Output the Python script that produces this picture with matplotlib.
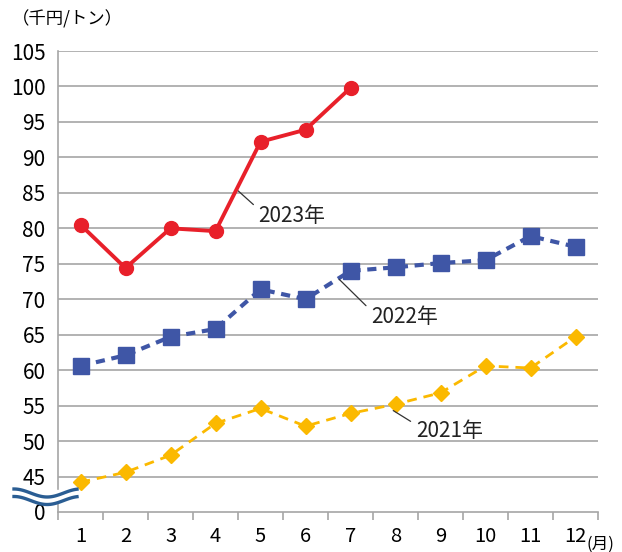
import numpy as np
import matplotlib.pyplot as plt

plt.rcParams['font.family'] = ['Noto Sans CJK JP', 'DejaVu Sans']

months = list(range(1, 13))
month_labels = [str(m) for m in months]
y2023 = [80.5, 74.4, 80.0, 79.6, 92.2, 93.9, 99.8]
y2022 = [60.6, 62.1, 64.7, 65.8, 71.4, 70.0, 74.0, 74.5, 75.1, 75.5, 78.9, 77.4]
y2021 = [44.2, 45.6, 48.0, 52.5, 54.6, 52.1, 53.9, 55.2, 56.8, 60.6, 60.3, 64.7]
yticks = [40, 45, 50, 55, 60, 65, 70, 75, 80, 85, 90, 95, 100, 105]
ytick_labels = ['0'] + [str(v) for v in yticks[1:]]

fig = plt.figure(figsize=(6.22, 5.52), dpi=100)
ax = fig.add_axes([58/622, 1 - 512/552, 540/622, 461/552])

grey = '#a6a6a6'
for v in yticks[1:]:
    ax.axhline(v, color=grey, lw=1.2, zorder=0)

ax.plot(months[:7], y2023, color='#e8202a', lw=2.8, marker='o', ms=10, zorder=4)
ax.plot(months, y2022, color='#3f56a6', lw=3, ls=(0, (2.2, 1.6)), marker='s', ms=11,
        zorder=3)
ax.plot(months, y2021, color='#fbb900', lw=2, ls=(0, (3.5, 2.5)), marker='D', ms=8,
        zorder=2)

ax.set_xlim(0.5, 12.5)
ax.set_ylim(40, 105)
ax.set_xticks(months)
ax.set_xticklabels(month_labels, fontsize=14.5)
ax.set_xticks(np.arange(0.5, 13, 1), minor=True)
ax.tick_params(axis='x', which='major', length=0, pad=10)
ax.tick_params(axis='x', which='minor', length=6, color=grey, width=1.2)
ax.set_yticks(yticks)
ax.set_yticklabels(ytick_labels, fontsize=15)
ax.tick_params(axis='y', length=0, pad=9)
for s in ['top', 'right']:
    ax.spines[s].set_visible(False)
for s in ['left', 'bottom']:
    ax.spines[s].set_color(grey)
    ax.spines[s].set_linewidth(1.2)

# series labels with leader lines
ax.annotate('2023年', xy=(4.5, 85.3), xytext=(4.95, 81.8), fontsize=15, color='#222222',
            va='center', ha='left',
            arrowprops=dict(arrowstyle='-', color='#333333', lw=0.9, shrinkB=0, shrinkA=2,
                            relpos=(0, 0.8)))
ax.annotate('2022年', xy=(6.75, 72.8), xytext=(7.45, 67.5), fontsize=15, color='#222222',
            va='center', ha='left',
            arrowprops=dict(arrowstyle='-', color='#333333', lw=0.9, shrinkB=0, shrinkA=2,
                            relpos=(0, 0.8)))
ax.annotate('2021年', xy=(7.95, 54.3), xytext=(8.45, 51.4), fontsize=15, color='#222222',
            va='center', ha='left',
            arrowprops=dict(arrowstyle='-', color='#333333', lw=0.9, shrinkB=0, shrinkA=2,
                            relpos=(0, 0.8)))

# axis break symbol
wx = np.linspace(14, 77, 80)
wy = 4 * np.cos((wx - 14) / 63 * 2 * np.pi * 0.95)
fig.patches.append(plt.Rectangle((54/622, 1 - 502/552), 8/622, 12/552,
                                 transform=fig.transFigure, color='white', zorder=5))
for off in [493, 500.5]:
    fig.add_artist(plt.Line2D(wx / 622, 1 - (off - wy) / 552, color='#2a5d93', lw=2.4,
                              transform=fig.transFigure, zorder=6))

fig.text(12/622, 1 - 19/552, '（千円/トン）', fontsize=12.5, va='center', ha='left')
fig.text(586/622, 1 - 544/552, '(月)', fontsize=12, va='center', ha='left')

fig.savefig('out.png', dpi=100)
